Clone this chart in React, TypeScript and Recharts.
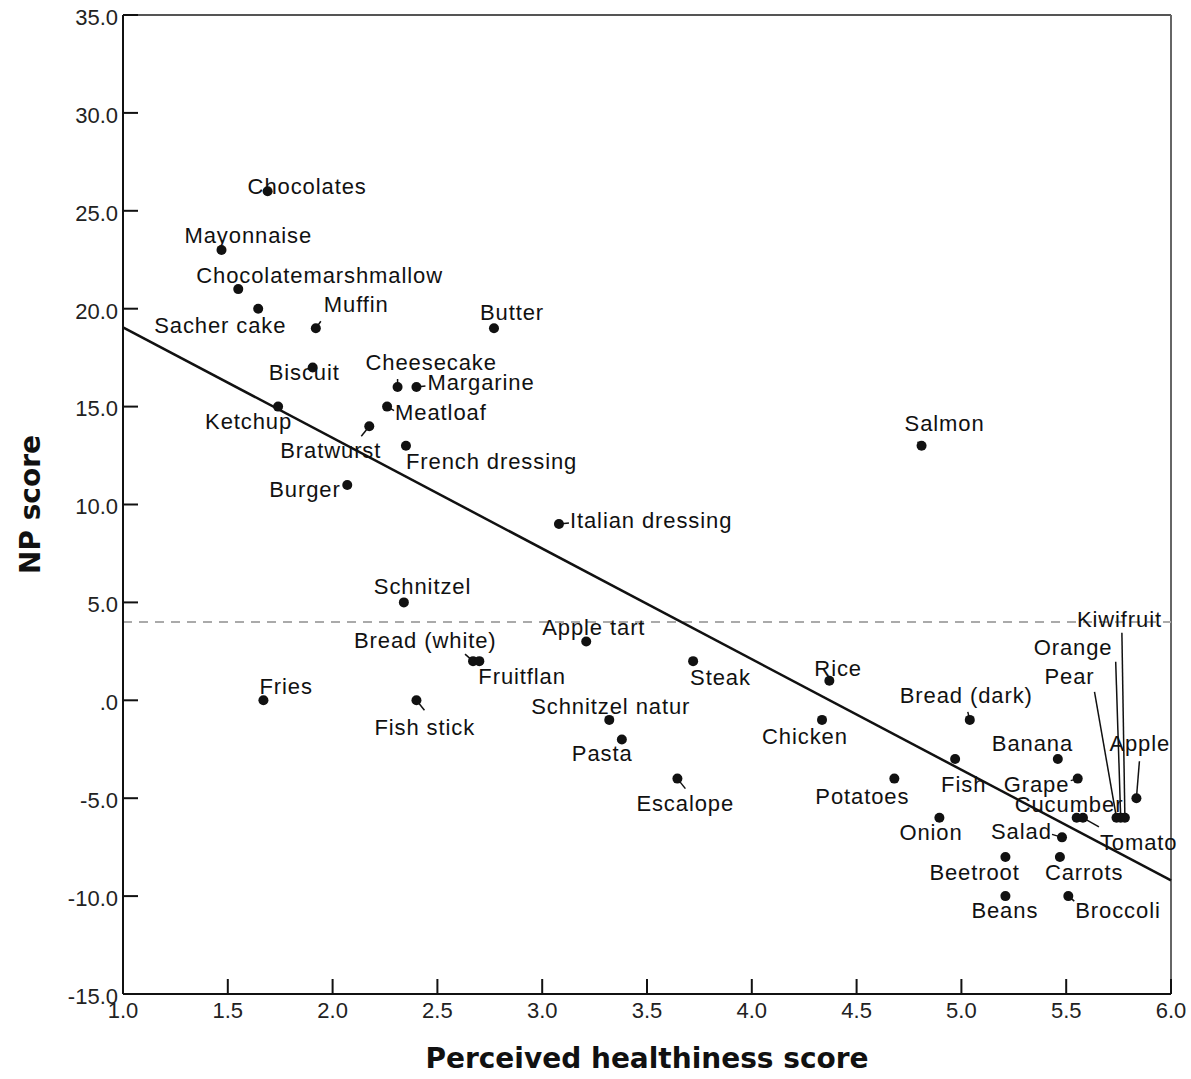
import React from 'react'
import {
  ScatterChart,
  Scatter,
  XAxis,
  YAxis,
  ReferenceLine,
  Label,
} from 'recharts'

const foods = [
  'Chocolates', 'Mayonnaise', 'Chocolatemarshmallow', 'Sacher cake', 'Muffin',
  'Butter', 'Biscuit', 'Cheesecake', 'Margarine', 'Meatloaf',
  'Ketchup', 'Bratwurst', 'French dressing', 'Burger', 'Italian dressing',
  'Salmon', 'Schnitzel', 'Apple tart', 'Bread (white)', 'Fruitflan',
  'Steak', 'Fries', 'Fish stick', 'Schnitzel natur', 'Pasta',
  'Escalope', 'Rice', 'Chicken', 'Potatoes', 'Bread (dark)',
  'Fish', 'Banana', 'Grape', 'Apple', 'Cucumber',
  'Tomato', 'Pear', 'Orange', 'Kiwifruit', 'Onion',
  'Salad', 'Beetroot', 'Carrots', 'Beans', 'Broccoli',
]

const healthiness = [
  1.69, 1.47, 1.55, 1.645, 1.92,
  2.77, 1.905, 2.31, 2.4, 2.26,
  1.74, 2.175, 2.35, 2.07, 3.08,
  4.81, 2.34, 3.21, 2.67, 2.7,
  3.72, 1.67, 2.4, 3.32, 3.38,
  3.645, 4.37, 4.335, 4.68, 5.04,
  4.97, 5.46, 5.555, 5.835, 5.55,
  5.58, 5.74, 5.76, 5.78, 4.895,
  5.48, 5.21, 5.47, 5.21, 5.51,
]

const npScore = [
  26, 23, 21, 20, 19,
  19, 17, 16, 16, 15,
  15, 14, 13, 11, 9,
  13, 5, 3, 2, 2,
  2, 0, 0, -1, -2,
  -4, 1, -1, -4, -1,
  -3, -3, -4, -5, -6,
  -6, -6, -6, -6, -6,
  -7, -8, -8, -10, -10,
]

const xTicks = [1, 1.5, 2, 2.5, 3, 3.5, 4, 4.5, 5, 5.5, 6]
const yTicks = [-15, -10, -5, 0, 5, 10, 15, 20, 25, 30, 35]

// fitted line endpoints
const fitLine = [
  { x: 1, y: 19.05 },
  { x: 6, y: -9.2 },
]
const cutoff = 4

// label placement: [text dx, baseline dy, leader end dx, leader end dy] in px
const labelOffsets: Record<string, number[]> = {
  'Chocolates': [-20, 3],
  'Mayonnaise': [-37, -7],
  'Chocolatemarshmallow': [-42, -6],
  'Sacher cake': [-104, 24],
  'Muffin': [8, -16, 5, -7],
  'Butter': [-14, -8],
  'Biscuit': [-44, 13],
  'Cheesecake': [-32, -17, 0, -8],
  'Margarine': [11, 3, 9, -1],
  'Meatloaf': [8, 13, 7, 4],
  'Ketchup': [-73, 22],
  'Bratwurst': [-89, 32, -8, 10],
  'French dressing': [0, 23],
  'Burger': [-78, 12],
  'Italian dressing': [11, 4, 10, -1],
  'Salmon': [-17, -15, -4, -4],
  'Schnitzel': [-30, -8],
  'Apple tart': [-44, -7],
  'Bread (white)': [-119, -13, -8, -7],
  'Fruitflan': [-1, 23],
  'Steak': [-3, 24],
  'Fries': [-4, -6],
  'Fish stick': [-42, 35, 8, 10],
  'Schnitzel natur': [-78, -6],
  'Pasta': [-50, 22],
  'Escalope': [-41, 32, 8, 10],
  'Rice': [-15, -5],
  'Chicken': [-60, 24],
  'Potatoes': [-79, 25],
  'Bread (dark)': [-70, -17, -2, -8],
  'Fish': [-14, 33],
  'Banana': [-66, -8],
  'Grape': [-74, 13, -7, 2],
  'Apple': [-27, -47, 3, -37],
  'Cucumber': [-62, -6],
  'Tomato': [17, 32, 16, 9],
  'Pear': [-72, -134, -22, -126],
  'Orange': [-87, -163, -5, -156],
  'Kiwifruit': [-48, -191, -3, -185],
  'Onion': [-40, 22],
  'Salad': [-71, 2, -10, -3],
  'Beetroot': [-76, 23],
  'Carrots': [-15, 23],
  'Beans': [-34, 22],
  'Broccoli': [7, 22, 6, 5],
}

const data = foods.map((name, i) => ({ name, x: healthiness[i], y: npScore[i] }))

const labelFont = '"Liberation Sans", Arial, sans-serif'
const titleFont = '"DejaVu Sans", Verdana, sans-serif'

function FoodDot(props: any) {
  const { cx, cy, payload } = props
  const off = labelOffsets[payload.name] || [6, -6]
  const [dx, dy, lx, ly] = off
  return (
    <g>
      {lx !== undefined && (
        <line x1={cx} y1={cy} x2={cx + lx} y2={cy + ly} stroke='#111' strokeWidth={1.5} />
      )}
      <circle cx={cx} cy={cy} r={5} fill='#111' />
      <text
        x={cx + dx}
        y={cy + dy}
        fontSize={22}
        letterSpacing={0.9}
        fontFamily={labelFont}
        fill='#111'
      >
        {payload.name}
      </text>
    </g>
  )
}

const yFormat = (v: number) => (v === 0 ? '.0' : v.toFixed(1))

function YTitle(props: any) {
  const { x, y, height } = props.viewBox
  const tx = x + 40
  const ty = y + height / 2
  return (
    <text
      x={tx}
      y={ty}
      transform={`rotate(-90 ${tx} ${ty})`}
      textAnchor='middle'
      fontSize={28}
      fontWeight='bold'
      fontFamily={titleFont}
      fill='#111'
    >
      NP score
    </text>
  )
}

function XTitle(props: any) {
  const { x, y, width } = props.viewBox
  return (
    <text
      x={x + width / 2}
      y={y + 74}
      textAnchor='middle'
      fontSize={28}
      fontWeight='bold'
      fontFamily={titleFont}
      fill='#111'
    >
      Perceived healthiness score
    </text>
  )
}

export default function App() {
  return (
    <div style={{ position: 'absolute', left: 0, top: 0, background: '#fff' }}>
      <ScatterChart
        width={1191}
        height={1079}
        margin={{ top: 15, right: 20, left: 0, bottom: 0 }}
      >
        <XAxis
          type='number'
          dataKey='x'
          domain={[1, 6]}
          ticks={xTicks}
          tickFormatter={(v: number) => v.toFixed(1)}
          height={85}
          tickSize={-15}
          tickMargin={23}
          axisLine={{ stroke: '#111', strokeWidth: 2 }}
          tickLine={{ stroke: '#111', strokeWidth: 2 }}
          tick={{ fontSize: 22, fill: '#222', fontFamily: labelFont }}
          interval={0}
        >
          <Label content={<XTitle />} />
        </XAxis>
        <YAxis
          type='number'
          dataKey='y'
          domain={[-15, 35]}
          ticks={yTicks}
          tickFormatter={yFormat}
          width={123}
          tickSize={-15}
          tickMargin={20}
          axisLine={{ stroke: '#111', strokeWidth: 2 }}
          tickLine={{ stroke: '#111', strokeWidth: 2 }}
          tick={{ fontSize: 22, fill: '#222', fontFamily: labelFont, dy: 2 }}
          interval={0}
        >
          <Label content={<YTitle />} />
        </YAxis>
        <ReferenceLine y={35} stroke='#555' strokeWidth={2} />
        <ReferenceLine x={6} stroke='#666' strokeWidth={2} />
        <ReferenceLine y={cutoff} stroke='#aaa' strokeWidth={2} strokeDasharray='9 7' />
        <ReferenceLine segment={fitLine} stroke='#111' strokeWidth={2.5} />
        <Scatter data={data} shape={<FoodDot />} isAnimationActive={false} />
      </ScatterChart>
    </div>
  )
}
